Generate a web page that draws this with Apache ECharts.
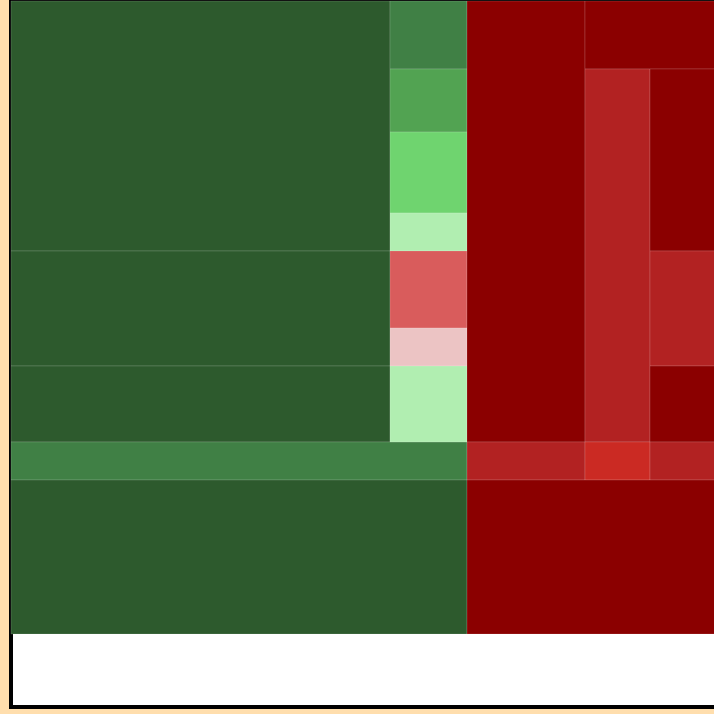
<!DOCTYPE html>
<html>
<head>
<meta charset="utf-8">
<style>
  html, body { margin: 0; padding: 0; background: #FFDEAD; }
  #chart { width: 714px; height: 714px; }
</style>
<script src="https://cdn.jsdelivr.net/npm/echarts@6/dist/echarts.min.js"></script>
</head>
<body>
<div id="chart"></div>
<script>
// Column and row boundaries of the tile grid (data units)
const colEdges = [0, 47.375, 57, 71.75, 79.875, 100];
const rowEdges = [0, 9.63, 18.56, 30.03, 35.41, 46.32, 51.70, 62.46, 67.85, 89.66];

// Tiles: [firstCol, lastCol, firstRow, lastRow, score]
// negative scores are gains (green), positive scores are losses (red)
const tiles = [
  [0, 1, 0, 4, -5], [0, 1, 4, 6, -5], [0, 1, 6, 7, -5],
  [0, 2, 7, 8, -4], [0, 2, 8, 9, -5],
  [1, 2, 0, 1, -4], [1, 2, 1, 2, -3], [1, 2, 2, 3, -2], [1, 2, 3, 4, -1],
  [1, 2, 4, 5, 2], [1, 2, 5, 6, 1], [1, 2, 6, 7, -1],
  [2, 3, 0, 7, 5], [3, 5, 0, 1, 5], [3, 4, 1, 7, 4],
  [4, 5, 1, 4, 5], [4, 5, 4, 6, 4], [4, 5, 6, 7, 5],
  [2, 3, 7, 8, 4], [3, 4, 7, 8, 3], [4, 5, 7, 8, 4],
  [2, 5, 8, 9, 5]
];

// Score levels shown by the colour scale
const scoreLevels = [-5, -4, -3, -2, -1, 1, 2, 3, 4, 5];
const levelColors = ['#2d5a2d', '#408045', '#52a352', '#6fd46f', '#b1eeb1',
                     '#ecc4c4', '#d95c5c', '#cb2a23', '#b22222', '#8b0000'];

const data = tiles.map(t => [colEdges[t[0]], colEdges[t[1]], rowEdges[t[2]], rowEdges[t[3]], t[4]]);

const chart = echarts.init(document.getElementById('chart'), null, { renderer: 'canvas' });
chart.setOption({
  backgroundColor: '#FFDEAD',
  animation: false,
  grid: {
    left: 11, top: 1, width: 800, height: 706,
    outerBoundsMode: 'none',
    show: true, backgroundColor: '#ffffff',
    borderColor: '#000000', borderWidth: 4
  },
  xAxis: { type: 'value', min: 0, max: 100, show: false },
  yAxis: { type: 'value', min: 0, max: 100, inverse: true, show: false },
  visualMap: {
    type: 'piecewise', show: false, dimension: 4, seriesIndex: 0,
    pieces: scoreLevels.map((v, i) => ({ value: v, color: levelColors[i] }))
  },
  series: [{
    type: 'custom',
    clip: false,
    encode: { x: [0, 1], y: [2, 3] },
    renderItem: function (params, api) {
      const p0 = api.coord([api.value(0), api.value(2)]);
      const p1 = api.coord([api.value(1), api.value(3)]);
      return {
        type: 'rect',
        shape: { x: p0[0], y: p0[1], width: p1[0] - p0[0], height: p1[1] - p0[1] },
        style: api.style({ stroke: 'rgba(255,255,255,0.14)', lineWidth: 1 })
      };
    },
    data: data
  }]
});
</script>
</body>
</html>
